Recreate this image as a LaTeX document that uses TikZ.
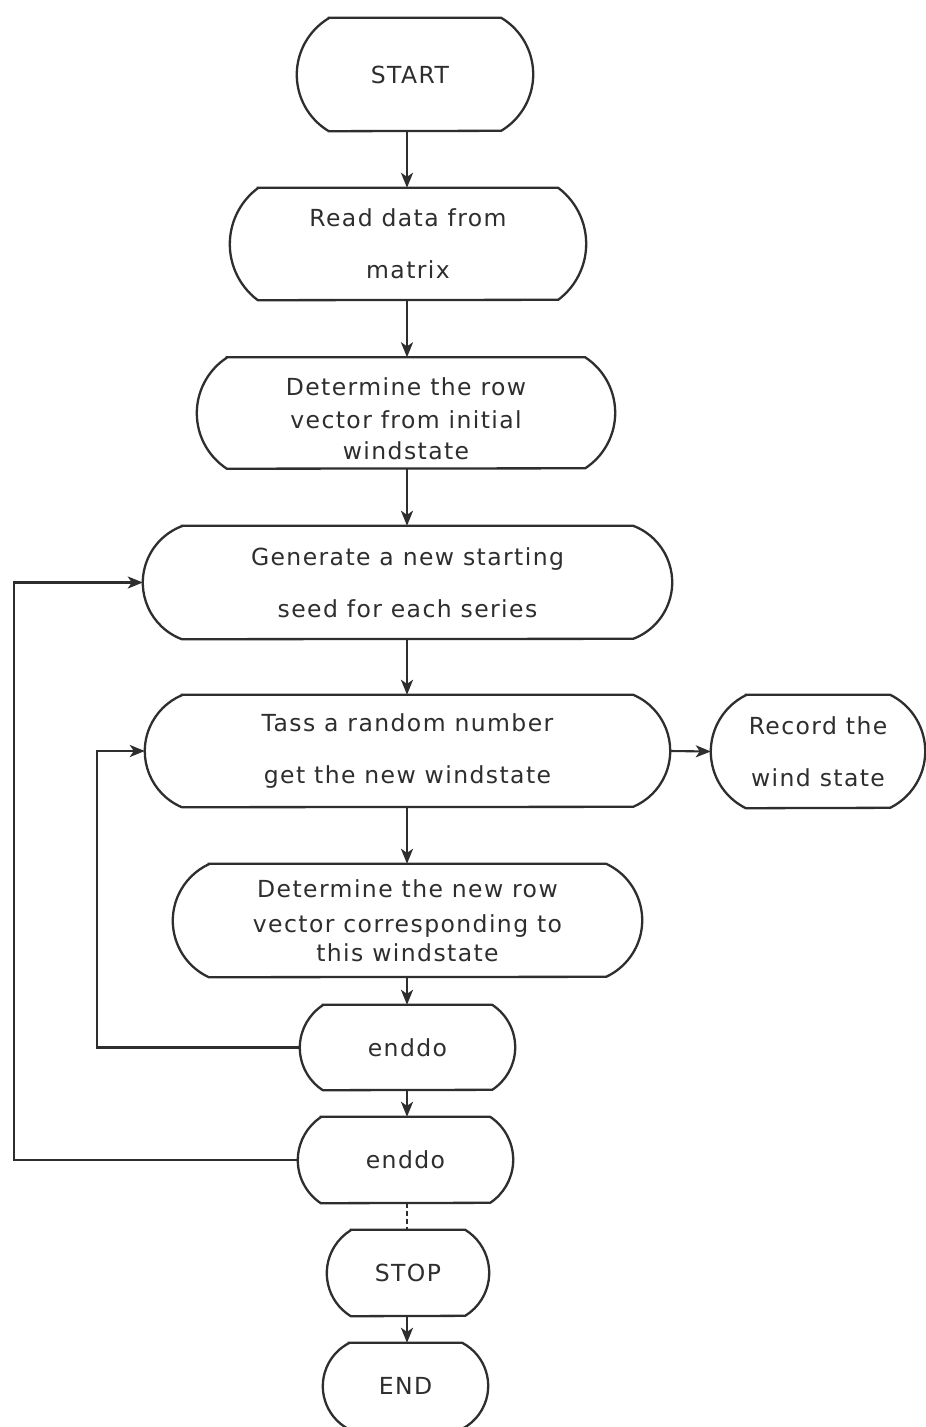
\documentclass[tikz,border=0pt]{standalone}
\usepackage{fontspec}
\setmainfont{DejaVu Sans}[LetterSpace=6]
\usetikzlibrary{calc,arrows.meta}
\definecolor{ink}{HTML}{2E2E2E}
\tikzset{
  outline/.style={draw=ink, line width=2.3pt},
  boxnode/.style={inner sep=0pt, align=center, text=ink,
     font=\fontsize{23.5}{32}\selectfont},
  arr/.style={draw=ink, line width=2.1pt, -{Stealth[length=15pt,width=12pt,inset=4pt]}},
  dashedline/.style={draw=ink, line width=2pt, dashed, dash pattern=on 5pt off 3pt},
}
% name, cx, cy, w, h, d, text
\newcommand\termbox[7]{%
  \node[boxnode, minimum width=#4pt, minimum height=#5pt] (#1) at (#2,#3) {#7};
  \pgfmathsetmacro\myR{(#5*#5/4+#6*#6)/(2*#6)}%
  \pgfmathsetmacro\myTh{asin(#5/2/\myR)}%
  \draw[outline] ($(#1.north west)+(#6pt,0pt)$) -- ($(#1.north east)+(-#6pt,0pt)$)
     arc[start angle=\myTh, end angle=-\myTh, radius=\myR pt]
     -- ($(#1.south west)+(#6pt,0pt)$)
     arc[start angle=180+\myTh, end angle=180-\myTh, radius=\myR pt] -- cycle;
}
\begin{document}
\begin{tikzpicture}[x=1pt,y=-1pt]
\useasboundingbox[fill=white] (0,0) rectangle (926,1427);
\coordinate (axis) at (407,0);
\coordinate (l1) at (97,0);
\coordinate (l2) at (14,0);

\termbox{start}{415}{74.5}{236}{113}{32}{START\hspace*{10pt}}
\termbox{read}{408}{244}{356}{112}{28}{Read data from\\[20pt]matrix}
\termbox{det1}{406}{413}{418}{111}{30}{\rule{0pt}{30pt}Determine the row\\[1pt]vector from initial\\[-1pt]windstate}
\termbox{gen}{407.5}{582.5}{529}{113}{39}{Generate a new starting\\[20pt]seed for each series}
\termbox{tass}{407.5}{751}{525}{112}{37}{Tass a random number\\[20pt]get the new windstate}
\termbox{rec}{818}{751.5}{214}{113}{35}{Record the\\[20pt]wind state}
\termbox{det2}{407.5}{920.5}{469}{113}{36}{Determine the new row\\[3pt]vector corresponding to\\[-3pt]this windstate}
\termbox{ed1}{407.5}{1047.5}{215}{85}{23}{enddo}
\termbox{ed2}{405.5}{1160}{215}{86}{23}{enddo}
\termbox{stop}{408}{1273}{162}{86}{24}{STOP}
\termbox{end}{405.5}{1386}{165}{86}{26}{END}

\draw[arr] (start.south -| axis) -- (read.north -| axis);
\draw[arr] (read.south -| axis) -- (det1.north -| axis);
\draw[arr] (det1.south -| axis) -- (gen.north -| axis);
\draw[arr] (gen.south -| axis) -- (tass.north -| axis);
\draw[arr] (tass.south -| axis) -- (det2.north -| axis);
\draw[arr] (det2.south -| axis) -- (ed1.north -| axis);
\draw[arr] (ed1.south -| axis) -- (ed2.north -| axis);
\draw[dashedline] (ed2.south -| axis) -- (stop.north -| axis);
\draw[arr] (stop.south -| axis) -- (end.north -| axis);
\draw[arr] (tass.east) -- (rec.west);
\draw[arr] (ed1.west) -- (ed1.west -| l1) |- (tass.west);
\draw[arr] (ed2.west) -- (ed2.west -| l2) |- (gen.west);
\end{tikzpicture}
\end{document}
